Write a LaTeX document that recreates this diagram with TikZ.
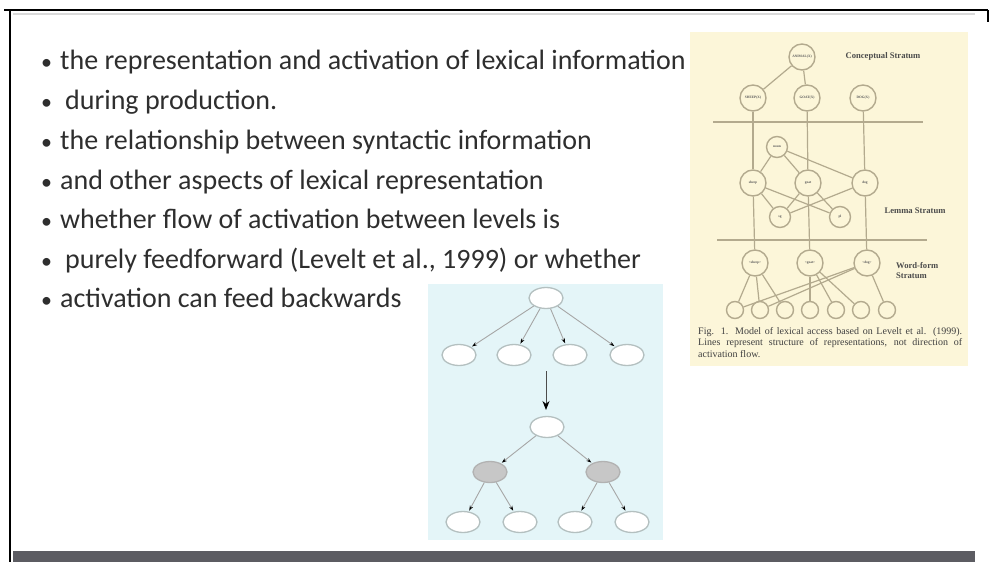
\documentclass[tikz,border=0pt]{standalone}
\usepackage{fontspec}
\setmainfont{Carlito}
\newfontfamily\figfont{Liberation Serif}
\usetikzlibrary{arrows.meta, shapes.geometric}

\definecolor{levfill}{HTML}{FCF6D9}
\definecolor{levline}{HTML}{B3AA8E}
\definecolor{treefill}{HTML}{E4F5F8}
\definecolor{treeline}{HTML}{B4C0C0}
\definecolor{barcol}{HTML}{5C5C62}

\begin{document}
\begin{tikzpicture}[x=1pt, y=-1pt,
    bullet/.style={anchor=base west, inner sep=0pt, text=black!82,
      font=\fontsize{28}{32}\selectfont},
    dot/.style={bullet, font=\fontsize{22}{26}\selectfont},
    lev/.style={circle, draw=levline, fill=levfill, line width=1.4pt,
      minimum size=26pt, inner sep=0pt, text=black!65,
      font=\figfont\bfseries\fontsize{3.5}{3.5}\selectfont},
    levsmall/.style={lev, minimum size=21pt},
    levseg/.style={lev, minimum size=17pt},
    levedge/.style={draw=levline, line width=1.2pt},
    levtext/.style={font=\figfont\bfseries\fontsize{8.6}{10}\selectfont,
      text=black!70, inner sep=0pt},
    oval/.style={ellipse, draw=treeline, fill=white, line width=1.3pt,
      minimum width=34pt, minimum height=21pt, inner sep=0pt},
    grayoval/.style={oval, fill=black!22, draw=black!30},
    treeedge/.style={draw=black!35, line width=0.9pt,
      -{Stealth[black, length=5pt, width=3.5pt]}, shorten >=1pt},
  ]
  \useasboundingbox (0,0) rectangle (990,562);

  % slide frame
  \draw[line width=2pt] (4,10) -- (988,10);
  \draw[line width=2pt] (988,10) -- (988,22);
  \draw[line width=2pt] (10,10) -- (10,562);
  \draw[black!15, line width=2pt] (13,14) -- (975,14);
  \fill[barcol] (13,551) rectangle (975,562);

  % bullet list
  \foreach \y in {69,109,149,189,228,268,307}
    \node[dot] at (41,\y) {•};
  \node[bullet] (l1) at (60,69)  {the representation and activation of lexical information};
  \node[bullet] (l2) at (65,109) {during production.};
  \node[bullet] (l3) at (60,149) {the relationship between syntactic information};
  \node[bullet] (l4) at (60,189) {and other aspects of lexical representation};
  \node[bullet] (l5) at (60,228) {whether flow of activation between levels is};
  \node[bullet] (l6) at (65,268) {purely feedforward (Levelt et al., 1999) or whether};
  \node[bullet] (l7) at (60,307) {activation can feed backwards};

  % Levelt figure
  \fill[levfill] (690,32) rectangle (968,366);
  \draw[levedge] (713,122) -- (923,122);
  \draw[levedge] (717,240) -- (927,240);

  \node[lev] (conc0) at (802,57) {ANIMAL(X)};
  \node[lev] (conc1) at (753,98) {SHEEP(X)};
  \node[lev] (conc2) at (807,98) {GOAT(X)};
  \node[lev] (conc3) at (863,98) {DOG(X)};
  \node[levtext] at (883,56) {Conceptual Stratum};

  \node[levsmall] (lem0) at (777,147) {noun};
  \node[lev] (lem1) at (753,183) {sheep};
  \node[lev] (lem2) at (808,183) {goat};
  \node[lev] (lem3) at (865,183) {dog};
  \node[levsmall] (lemA) at (780,217) {sg};
  \node[levsmall] (lemB) at (840,217) {pl};
  \node[levtext] at (915,211) {Lemma Stratum};

  \node[lev] (wf1) at (755,263) {<sheep>};
  \node[lev] (wf2) at (810,263) {<goat>};
  \node[lev] (wf3) at (867,263) {<dog>};
  \node[levtext, anchor=west, align=left] at (896,271) {Word-form\\Stratum};

  \foreach \i/\x in {1/735,2/760,3/785,4/810,5/836,6/861,7/887}
    \node[levseg] (seg\i) at (\x,310) {};

  \draw[levedge] (conc0) -- (conc1);
  \draw[levedge] (conc0) -- (conc2);
  \draw[levedge] (conc1) -- (lem1);
  \draw[levedge] (conc2) -- (lem2);
  \draw[levedge] (conc3) -- (lem3);
  \draw[levedge] (lem0) -- (lem1);
  \draw[levedge] (lem0) -- (lem2);
  \draw[levedge] (lem0) -- (lem3);
  \draw[levedge] (lem1) -- (lemA);
  \draw[levedge] (lem1) -- (lemB);
  \draw[levedge] (lem2) -- (lemA);
  \draw[levedge] (lem2) -- (lemB);
  \draw[levedge] (lem3) -- (lemA);
  \draw[levedge] (lem1) -- (wf1);
  \draw[levedge] (lem2) -- (wf2);
  \draw[levedge] (lem3) -- (wf3);
  \draw[levedge] (wf1) -- (seg1);
  \draw[levedge] (wf1) -- (seg2);
  \draw[levedge] (wf1) -- (seg3);
  \draw[levedge] (wf2) -- (seg4);
  \draw[levedge] (wf2) -- (seg5);
  \draw[levedge] (wf2) -- (seg6);
  \draw[levedge] (wf3) -- (seg1);
  \draw[levedge] (wf3) -- (seg2);
  \draw[levedge] (wf3) -- (seg7);

  \node[anchor=north west, inner sep=0pt, text width=264pt, align=justify,
        font=\figfont\fontsize{10}{11.5}\selectfont, text=black!75]
    (caption) at (698,327)
    {Fig. 1. Model of lexical access based on Levelt et al. (1999).\linebreak
     Lines represent structure of representations, not direction of\linebreak
     activation flow.};

  % tree panel
  \fill[treefill] (428,284) rectangle (663,540);
  \node[oval] (t0) at (546,298) {};
  \node[oval] (t1) at (459,355) {};
  \node[oval] (t2) at (514,355) {};
  \node[oval] (t3) at (570,355) {};
  \node[oval] (t4) at (627,355) {};
  \node[oval] (m0) at (547,427) {};
  \node[grayoval] (g1) at (490,472) {};
  \node[grayoval] (g2) at (603,472) {};
  \node[oval] (b1) at (463,522) {};
  \node[oval] (b2) at (520,522) {};
  \node[oval] (b3) at (575,522) {};
  \node[oval] (b4) at (632,522) {};
  \foreach \n in {t1,t2,t3,t4}
    \draw[treeedge] (t0) -- (\n);
  \draw[treeedge] (m0) -- (g1);
  \draw[treeedge] (m0) -- (g2);
  \draw[treeedge] (g1) -- (b1);
  \draw[treeedge] (g1) -- (b2);
  \draw[treeedge] (g2) -- (b3);
  \draw[treeedge] (g2) -- (b4);

  \coordinate (arrtop) at (546,371);
  \coordinate (arrbot) at (546,410);
  \draw[black!70, line width=1pt, -{Stealth[black, length=9pt, width=7pt]}]
    (arrtop) -- (arrbot);
\end{tikzpicture}
\end{document}
